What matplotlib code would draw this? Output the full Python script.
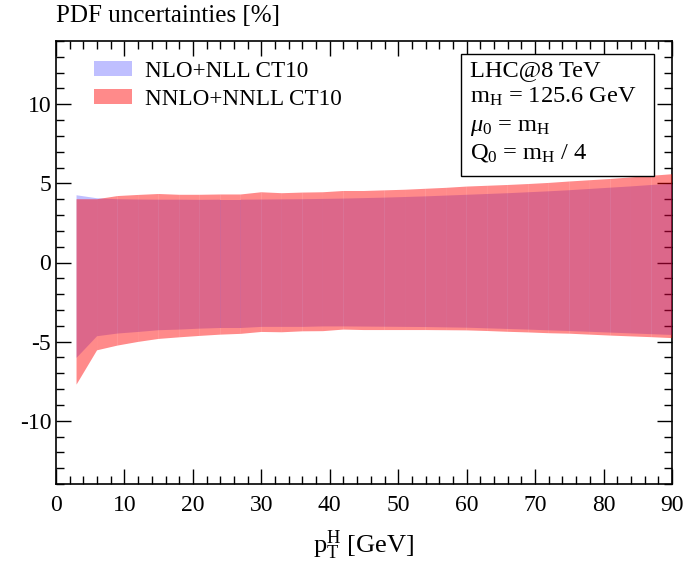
import numpy as np
import matplotlib
matplotlib.use("Agg")
import matplotlib.pyplot as plt
from matplotlib.patches import Patch, Rectangle
from matplotlib.ticker import MultipleLocator

plt.rcParams['font.family'] = ['Liberation Serif', 'DejaVu Serif']
plt.rcParams['mathtext.fontset'] = 'custom'
plt.rcParams['mathtext.rm'] = 'Liberation Serif'
plt.rcParams['mathtext.it'] = 'Liberation Serif:italic'
plt.rcParams['axes.unicode_minus'] = False

# pT bins (GeV)
pt = [3, 6, 9, 12, 15, 18, 21, 24, 27, 30, 33, 36, 39, 42, 45,
      48, 51, 54, 57, 60, 63, 66, 69, 72, 75, 78, 81, 84, 87, 90]

# NLO+NLL CT10 band [%]
nlo_up = [4.25, 4.06, 4.0, 3.98, 3.97, 3.97, 3.96, 3.97, 3.97, 3.98, 3.99, 4.0, 4.02, 4.04, 4.07,
          4.1, 4.14, 4.18, 4.23, 4.28, 4.33, 4.38, 4.44, 4.5, 4.57, 4.65, 4.73, 4.81, 4.9, 4.98]
nlo_dn = [-6.03, -4.66, -4.49, -4.39, -4.28, -4.24, -4.18, -4.14, -4.14, -4.07, -4.07, -4.07, -4.04, -4.04, -4.05,
          -4.06, -4.07, -4.08, -4.1, -4.12, -4.16, -4.2, -4.24, -4.29, -4.33, -4.38, -4.43, -4.48, -4.53, -4.58]

# NNLO+NNLL CT10 band [%]
nnlo_up = [4.0, 4.0, 4.2, 4.27, 4.33, 4.28, 4.28, 4.3, 4.3, 4.44, 4.38, 4.42, 4.44, 4.52, 4.52,
           4.56, 4.6, 4.66, 4.72, 4.8, 4.85, 4.9, 4.96, 5.03, 5.12, 5.2, 5.28, 5.38, 5.48, 5.58]
nnlo_dn = [-7.72, -5.55, -5.25, -5.02, -4.83, -4.73, -4.64, -4.56, -4.51, -4.39, -4.41, -4.35, -4.34, -4.24, -4.27,
           -4.27, -4.27, -4.27, -4.28, -4.29, -4.33, -4.38, -4.42, -4.47, -4.5, -4.56, -4.62, -4.67, -4.72, -4.78]

labels = ['NLO+NLL CT10', 'NNLO+NNLL CT10']
info_lines = ['LHC@8 TeV',
              r'm$_\mathrm{H}$ = 125.6 GeV',
              r'$\mu_0$ = m$_\mathrm{H}$',
              r'Q$_0$ = m$_\mathrm{H}$ / 4']

blue = (0.0, 0.0, 1.0, 0.25)
red = (1.0, 0.0, 0.0, 0.46)

W, H = 688, 564
fig = plt.figure(figsize=(W / 100, H / 100), dpi=100)
ax = fig.add_axes([56 / W, 1 - 484 / H, 616 / W, 443 / H])


def band(x, lo, hi, color):
    # draw bin by bin, like the original (leaves faint seams)
    for i in range(len(x) - 1):
        ax.fill_between(x[i:i + 2], lo[i:i + 2], hi[i:i + 2], facecolor=color,
                        edgecolor='none', linewidth=0, zorder=3)


band(pt, nlo_dn, nlo_up, blue)
band(pt, nnlo_dn, nnlo_up, red)

ax.set_xlim(0, 90)
ax.set_ylim(-14, 14)
ax.xaxis.set_major_locator(MultipleLocator(10))
ax.xaxis.set_minor_locator(MultipleLocator(2))
ax.yaxis.set_major_locator(MultipleLocator(5))
ax.yaxis.set_minor_locator(MultipleLocator(1))
ax.tick_params(which='both', direction='in', top=True, right=True, labelsize=17, width=1)
ax.tick_params(which='major', length=11)
ax.tick_params(which='minor', length=6)
ax.tick_params(axis='x', pad=8)
for s in ax.spines.values():
    s.set_linewidth(1.2)

ax.set_xlabel(r'$\mathrm{p}_\mathrm{T}^\mathrm{H}$ [GeV]', fontsize=19, labelpad=9)
fig.text(56 / W, 0.972, 'PDF uncertainties [%]', fontsize=18, ha='left', va='center')

handles = [Patch(facecolor=blue, edgecolor='none'), Patch(facecolor=red, edgecolor='none')]
ax.legend(handles, labels, loc='upper left', frameon=False, fontsize=16.7,
          bbox_to_anchor=((94 - 56) / 616, (484 - 61) / 443), borderaxespad=0, borderpad=0,
          handlelength=1.64, handleheight=0.6, handletextpad=0.56, labelspacing=0.3)


def ax_frac(px, py):
    return (px - 56) / 616, (484 - py) / 443


x0, y0 = ax_frac(461, 176)
x1, y1 = ax_frac(654, 54)
ax.add_patch(Rectangle((x0, y0), x1 - x0, y1 - y0, transform=ax.transAxes, facecolor='white',
                       edgecolor='black', linewidth=1, zorder=5))
for line, base in zip(info_lines, [76, 103, 131, 158]):
    tx, ty = ax_frac(470, base)
    ax.text(tx, ty, line, transform=ax.transAxes, fontsize=17.6, ha='left', va='baseline', zorder=6)

fig.savefig('out.png', dpi=100)
